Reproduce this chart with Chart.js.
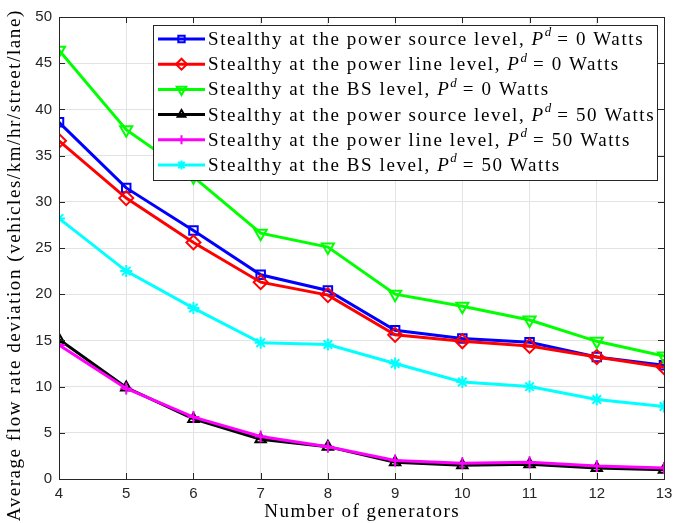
<!DOCTYPE html>
<html>
<head>
<meta charset="UTF-8">
<title>Average flow rate deviation</title>
<script src="https://cdn.jsdelivr.net/npm/chart.js@4.4.1/dist/chart.umd.min.js"></script>
<style>
    html, body { margin: 0; padding: 0; background: #fff; }
    #wrap { width: 675px; height: 523px; position: relative; }
</style>
</head>
<body>
<div id="wrap"><canvas id="flowChart"></canvas></div>
<script>
    const generators = [4, 5, 6, 7, 8, 9, 10, 11, 12, 13];
    const srcP0  = [38.6, 31.5, 26.9, 22.1, 20.4, 16.1, 15.2, 14.8, 13.2, 12.3];
    const lineP0 = [36.6, 30.4, 25.6, 21.3, 19.9, 15.6, 14.9, 14.4, 13.2, 12.1];
    const bsP0   = [46.4, 37.8, 32.7, 26.6, 25.1, 20.0, 18.7, 17.2, 14.9, 13.3];
    const srcP50  = [15.1, 9.9, 6.5, 4.3, 3.5, 1.8, 1.5, 1.6, 1.2, 1.0];
    const lineP50 = [14.5, 9.8, 6.7, 4.6, 3.5, 2.0, 1.7, 1.8, 1.4, 1.2];
    const bsP50   = [28.2, 22.5, 18.5, 14.75, 14.55, 12.5, 10.5, 10.0, 8.6, 7.85];
    const yTicks = [0, 5, 10, 15, 20, 25, 30, 35, 40, 45, 50];

    const xTitle = 'Number of generators';
    const yTitle = 'Average flow rate deviation (vehicles/km/hr/street/lane)';
    const legendLabels = [
        ['Stealthy at the power source level, ', '= 0 Watts'],
        ['Stealthy at the power line level, ', '= 0 Watts'],
        ['Stealthy at the BS level, ', '= 0 Watts'],
        ['Stealthy at the power source level, ', '= 50 Watts'],
        ['Stealthy at the power line level, ', '= 50 Watts'],
        ['Stealthy at the BS level, ', '= 50 Watts']
    ];

    const serif = '"Liberation Serif", "DejaVu Serif", serif';
    const sans = '"Liberation Sans", Arial, sans-serif';

    function series(values) {
        return values.map((v, i) => ({ x: generators[i], y: v }));
    }

    const styles = [
        { color: '#0000ff', point: 'rect', rot: 0, r: 6 },
        { color: '#ff0000', point: 'rectRot', rot: 0, r: 7 },
        { color: '#00ff00', point: 'triangle', rot: 180, r: 7 },
        { color: '#000000', point: 'triangle', rot: 0, r: 6 },
        { color: '#ff00ff', point: 'cross', rot: 0, r: 6 },
        { color: '#00ffff', point: 'star', rot: 0, r: 6 }
    ];
    const allValues = [srcP0, lineP0, bsP0, srcP50, lineP50, bsP50];

    const datasets = allValues.map((vals, i) => ({
        label: legendLabels[i].join('P'),
        data: series(vals),
        borderColor: styles[i].color,
        backgroundColor: 'transparent',
        borderWidth: 3,
        pointStyle: styles[i].point,
        pointRotation: styles[i].rot,
        pointRadius: styles[i].r,
        pointBorderWidth: 2,
        pointBorderColor: styles[i].color,
        pointBackgroundColor: 'transparent',
        order: 6 - i,
        tension: 0
    }));

    // letter spacing so a string fills a given width (latex font is wider than times)
    function spacingFor(ctx, text, width) {
        ctx.letterSpacing = '0px';
        const w = ctx.measureText(text).width;
        return (width - w) / text.length;
    }

    // axes box with inward ticks, like the matlab figure
    const framePlugin = {
        id: 'frame',
        afterDatasetsDraw(chart) {
            const ctx = chart.ctx;
            const a = chart.chartArea;
            const xs = chart.scales.x, ys = chart.scales.y;
            ctx.save();
            ctx.strokeStyle = '#262626';
            ctx.lineWidth = 1;
            ctx.strokeRect(a.left + 0.5, a.top + 0.5, a.right - a.left, a.bottom - a.top);
            const t = 6;
            ctx.beginPath();
            generators.forEach(g => {
                const px = Math.round(xs.getPixelForValue(g)) + 0.5;
                ctx.moveTo(px, a.bottom); ctx.lineTo(px, a.bottom - t);
                ctx.moveTo(px, a.top); ctx.lineTo(px, a.top + t);
            });
            yTicks.forEach(v => {
                const py = Math.round(ys.getPixelForValue(v)) + 0.5;
                ctx.moveTo(a.left, py); ctx.lineTo(a.left + t, py);
                ctx.moveTo(a.right, py); ctx.lineTo(a.right - t, py);
            });
            ctx.stroke();

            // axis titles
            ctx.fillStyle = '#000';
            ctx.textAlign = 'center';
            ctx.textBaseline = 'middle';
            ctx.font = '19px ' + serif;
            let sp = spacingFor(ctx, xTitle, 196);
            ctx.letterSpacing = sp + 'px';
            ctx.fillText(xTitle, (a.left + a.right) / 2 + sp / 2, 512);
            sp = spacingFor(ctx, yTitle, 512);
            ctx.letterSpacing = sp + 'px';
            ctx.translate(15, 266);
            ctx.rotate(-Math.PI / 2);
            ctx.fillText(yTitle, sp / 2, 0);
            ctx.restore();
        }
    };

    const legendPlugin = {
        id: 'texLegend',
        afterDraw(chart) {
            const ctx = chart.ctx;
            const box = { x: 153.5, y: 25.5, w: 504, h: 155 };
            ctx.save();
            ctx.fillStyle = '#fff';
            ctx.fillRect(box.x, box.y, box.w, box.h);
            ctx.strokeStyle = '#262626';
            ctx.lineWidth = 1;
            ctx.strokeRect(box.x, box.y, box.w, box.h);

            // spacing chosen so the longest row matches the reference width
            const longest = legendLabels[3][0] + 'P ' + legendLabels[3][1];
            ctx.font = '19px ' + serif;
            const sp = spacingFor(ctx, longest, 440);

            const rowH = 25.2;
            legendLabels.forEach((parts, i) => {
                const y = 39 + i * rowH;
                const s = styles[i];
                ctx.letterSpacing = '0px';
                ctx.strokeStyle = s.color;
                ctx.fillStyle = 'rgba(0,0,0,0)';
                ctx.lineWidth = 3;
                ctx.beginPath();
                ctx.moveTo(158, y); ctx.lineTo(205, y);
                ctx.stroke();
                ctx.lineWidth = 2;
                Chart.helpers.drawPoint(ctx, {
                    pointStyle: s.point, rotation: s.rot, radius: s.r - 1.5, borderWidth: 2
                }, 181.5, y);

                ctx.fillStyle = '#000';
                ctx.textBaseline = 'middle';
                ctx.letterSpacing = sp + 'px';
                let x = 208;
                ctx.font = '19px ' + serif;
                ctx.fillText(parts[0], x, y + 1);
                x += ctx.measureText(parts[0]).width;
                ctx.font = 'italic 19px ' + serif;
                ctx.fillText('P', x, y + 1);
                x += ctx.measureText('P').width;
                ctx.letterSpacing = '0px';
                ctx.font = 'italic 13px ' + serif;
                ctx.fillText('d', x, y - 6);
                x += ctx.measureText('d').width + 6;
                ctx.letterSpacing = sp + 'px';
                ctx.font = '19px ' + serif;
                ctx.fillText(parts[1], x, y + 1);
            });
            ctx.restore();
        }
    };

    new Chart(document.getElementById('flowChart'), {
        type: 'line',
        data: { datasets },
        options: {
            responsive: true,
            maintainAspectRatio: false,
            animation: false,
            layout: { padding: { top: 17, right: 11, left: 0, bottom: 0 } },
            plugins: { legend: { display: false }, tooltip: { enabled: false } },
            scales: {
                x: {
                    type: 'linear',
                    min: 4, max: 13,
                    afterFit: s => { s.height = 44; s.paddingLeft = 0; s.paddingRight = 0; },
                    afterBuildTicks: s => { s.ticks = generators.map(v => ({ value: v })); },
                    grid: { color: '#e3e3e3', drawTicks: false },
                    border: { display: false },
                    ticks: { color: '#262626', font: { family: sans, size: 15 }, padding: 6, maxRotation: 0 }
                },
                y: {
                    min: 0, max: 50,
                    afterFit: s => { s.width = 59; },
                    afterBuildTicks: s => { s.ticks = yTicks.map(v => ({ value: v })); },
                    grid: { color: '#e3e3e3', drawTicks: false },
                    border: { display: false },
                    ticks: { color: '#262626', font: { family: sans, size: 15 }, padding: 7 }
                }
            }
        },
        plugins: [framePlugin, legendPlugin]
    });
</script>
</body>
</html>
